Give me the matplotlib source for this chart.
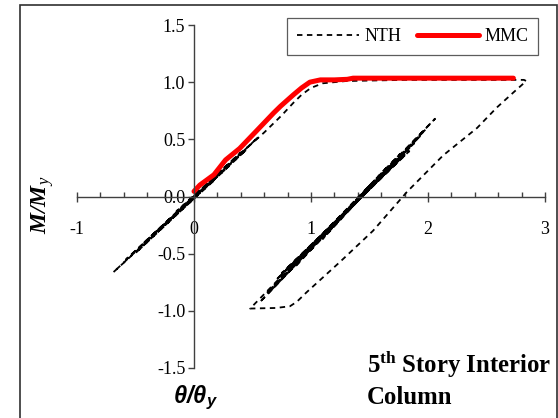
import numpy as np
import matplotlib
matplotlib.use('Agg')
import matplotlib.pyplot as plt
from matplotlib.patches import Rectangle
from matplotlib.ticker import MultipleLocator

plt.rcParams['font.family'] = 'Liberation Serif'
plt.rcParams['axes.unicode_minus'] = False
plt.rcParams['mathtext.fontset'] = 'custom'
plt.rcParams['mathtext.rm'] = 'Liberation Serif'
plt.rcParams['mathtext.it'] = 'Liberation Serif:italic'
plt.rcParams['mathtext.bf'] = 'Liberation Serif:bold:italic'

# NTH: turning points of the time-history response (theta/theta_y, M/M_y)
nth_x = [0.00, 0.18, -0.69, 0.32, -0.58, 0.45, -0.50, 0.55, -0.44, 0.40,
         -0.36, 0.30, -0.25, 0.20, -0.15,
         0.60, 0.75, 0.85, 0.92, 1.00, 1.10, 1.30, 1.80, 2.50, 2.82, 2.84,
         2.73, 2.59, 2.42, 2.13, 1.82, 1.53, 1.25, 0.96, 0.88, 0.82, 0.70, 0.48,
         2.06, 0.56, 1.98, 0.62, 1.93, 0.66, 1.88, 0.70, 1.84, 0.75, 1.80,
         0.80, 1.76, 0.86, 1.72, 0.92, 1.66, 1.00, 1.60, 1.10, 1.52, 1.30]
nth_y = [0.00, 0.148, -0.663, 0.297, -0.549, 0.411, -0.495, 0.520, -0.416, 0.386,
         -0.341, 0.267, -0.238, 0.178, -0.129,
         0.56, 0.71, 0.82, 0.89, 0.95, 0.99, 1.01, 1.02, 1.02, 1.02, 1.01,
         0.91, 0.78, 0.60, 0.36, 0.04, -0.30, -0.57, -0.84, -0.92, -0.96, -0.975, -0.98,
         0.680, -0.927, 0.587, -0.845, 0.525, -0.819, 0.464, -0.731, 0.397, -0.670, 0.366,
         -0.644, 0.371, -0.618, 0.314, -0.536, 0.268, -0.464, 0.180, -0.371, 0.118, -0.144]

# MMC: monotonic curve
mmc_x = [0.00, 0.05, 0.17, 0.27, 0.39, 0.54, 0.68, 0.74, 0.85, 0.92, 0.99,
         1.08, 1.20, 1.31, 1.36, 1.60, 2.00, 2.40, 2.73]
mmc_y = [0.045, 0.10, 0.19, 0.32, 0.42, 0.58, 0.73, 0.79, 0.89, 0.95, 1.00,
         1.02, 1.02, 1.025, 1.035, 1.035, 1.035, 1.035, 1.035]

x_ticks = [-1, 0, 1, 2, 3]
y_ticks = [-1.5, -1.0, -0.5, 0.0, 0.5, 1.0, 1.5]

W, H = 558, 418
fig = plt.figure(figsize=(W / 100, H / 100), dpi=100)
ax = fig.add_axes([77 / W, 50 / H, 468 / W, 343 / H])

ax.plot(nth_x, nth_y, color='black', lw=1.3, ls=(0, (3, 2.5)), label='NTH')
ax.plot(mmc_x, mmc_y, color='#ff0000', lw=3.6, solid_capstyle='round', label='MMC')

ax.set_xlim(-1, 3)
ax.set_ylim(-1.5, 1.5)
for s in ['top', 'right']:
    ax.spines[s].set_visible(False)
ax.spines['left'].set_position(('data', 0))
ax.spines['bottom'].set_position(('data', 0))
for s in ['left', 'bottom']:
    ax.spines[s].set_color('#404040')
    ax.spines[s].set_linewidth(1.0)

ax.set_xticks(x_ticks)
ax.set_xticklabels([str(v) for v in x_ticks])
ax.xaxis.set_minor_locator(MultipleLocator(0.2))
ax.set_yticks(y_ticks)
ax.set_yticklabels(['%.1f' % v for v in y_ticks])
ax.tick_params(axis='x', which='major', direction='inout', length=7, width=1.0,
               color='#404040', labelsize=13, pad=14)
ax.tick_params(axis='x', which='minor', direction='in', length=3.3, width=1.0,
               color='#404040')
ax.tick_params(axis='y', which='major', direction='out', length=4.3, width=1.0,
               color='#404040', labelsize=13, pad=2)

leg = ax.legend(loc='upper right', bbox_to_anchor=(538 / W, 1 - 18 / H),
                bbox_transform=fig.transFigure, ncol=2, fontsize=13,
                frameon=True, fancybox=False, borderaxespad=0,
                handlelength=3.4, handletextpad=0.3, columnspacing=0.9,
                borderpad=0.55)
leg.get_frame().set_edgecolor('#333333')
leg.get_frame().set_linewidth(0.9)

fig.text(43 / W, 1 - 205 / H, r'$\mathbf{M/M}_{y}$', rotation=90, fontsize=17,
         ha='center', va='center')
fig.text(195 / W, 1 - 397 / H, r'θ/θ$_\mathregular{y}$', fontsize=17,
         family='Liberation Sans', style='italic', weight='bold',
         ha='center', va='center')
fig.text(367 / W, 1 - 372 / H, r'5$^\mathregular{th}$ Story Interior',
         fontsize=17.8, weight='bold', ha='left', va='baseline')
fig.text(367 / W, 1 - 404 / H, 'Column', fontsize=17.8, weight='bold',
         ha='left', va='baseline')

fig.patches.append(Rectangle((20 / W, -0.05), 537 / W, 1.05 - 5 / H,
                             transform=fig.transFigure, fill=False,
                             edgecolor='#303030', lw=1.2))

fig.savefig('out.png', dpi=100)
